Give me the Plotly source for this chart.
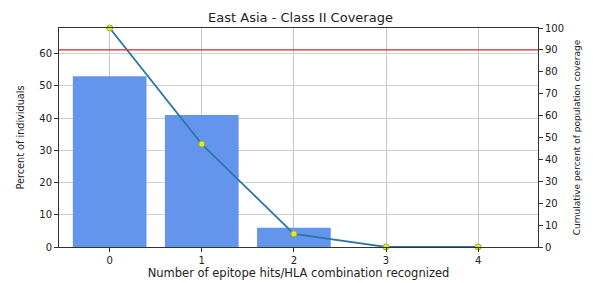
import plotly.graph_objects as go

categories = [0, 1, 2, 3, 4]
percent_individuals = [53, 41, 6, 0, 0]
cumulative_coverage = [100, 47, 6, 0, 0]
threshold = 90
x_ticks = [0, 1, 2, 3, 4]
left_ticks = [0, 10, 20, 30, 40, 50, 60]
right_ticks = [0, 10, 20, 30, 40, 50, 60, 70, 80, 90, 100]

fig = go.Figure()
fig.add_trace(go.Bar(x=categories, y=percent_individuals, width=0.8,
                     marker=dict(color="#6495ED", line=dict(width=0)),
                     yaxis="y", showlegend=False))
fig.add_trace(go.Scatter(x=categories, y=cumulative_coverage, mode="lines+markers",
                         line=dict(color="#2a78a8", width=1.8),
                         marker=dict(color="#dcef28", size=6, line=dict(color="#9fae2a", width=1)),
                         yaxis="y2", showlegend=False, cliponaxis=False))
fig.add_shape(type="line", xref="paper", x0=0, x1=1, yref="y2", y0=threshold, y1=threshold,
              line=dict(color="#d62728", width=1.3))

font = "DejaVu Sans, Arial, sans-serif"
fig.update_layout(
    width=585, height=275,
    margin=dict(l=51, r=55, t=20, b=36, autoexpand=False),
    paper_bgcolor="white", plot_bgcolor="white",
    font=dict(family=font, color="#222", size=10),
    title=dict(text="East Asia - Class II Coverage", x=0.5, xanchor="center",
               y=0.967, yanchor="middle", font=dict(size=13, color="#222")),
    xaxis=dict(range=[-0.55, 4.65], tickvals=x_ticks, ticks="outside", ticklen=4,
               tickcolor="#333", showgrid=True, gridcolor="#c8c8c8", gridwidth=1,
               showline=True, linecolor="#333", linewidth=1, mirror=True,
               zeroline=False, tickfont=dict(size=10), automargin=False,
               title=dict(text="Number of epitope hits/HLA combination recognized",
                          font=dict(size=11.5), standoff=0)),
    yaxis=dict(range=[0, 68], tickvals=left_ticks, ticks="outside", ticklen=4,
               tickcolor="#333", showgrid=True, gridcolor="#d0d0d0", gridwidth=1,
               showline=True, linecolor="#333", linewidth=1, zeroline=False,
               tickfont=dict(size=10), automargin=False,
               title=dict(text="Percent of individuals", font=dict(size=9.7), standoff=12)),
    yaxis2=dict(range=[0, 100], tickvals=right_ticks, overlaying="y", side="right",
                ticks="outside", ticklen=4, tickcolor="#333", showgrid=False,
                showline=True, linecolor="#333", linewidth=1, zeroline=False,
                tickfont=dict(size=10), automargin=False,
                title=dict(text="Cumulative percent of population coverage",
                           font=dict(size=9), standoff=10)),
    bargap=0.2,
)

fig.write_html("out.html")
